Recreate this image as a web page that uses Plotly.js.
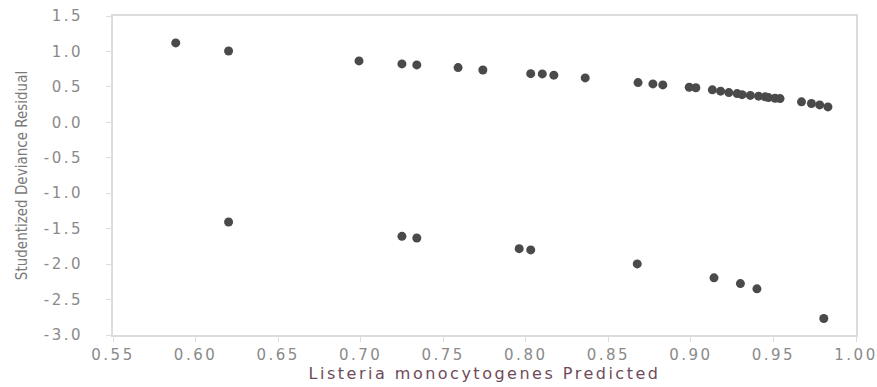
<!DOCTYPE html>
<html>
<head>
<meta charset="utf-8">
<script src="https://cdn.plot.ly/plotly-3.0.1.min.js"></script>
<style>
html,body{margin:0;padding:0;background:#fff;}
#chart{width:877px;height:387px;}
#chart .xtick text, #chart .ytick text{letter-spacing:2.5px;}
#chart .g-xtitle text{letter-spacing:2.5px;}
</style>
</head>
<body>
<div id="chart"></div>
<script>
// Predicted probability (x) and studentized deviance residual (y)
const predicted = [
  0.588, 0.620, 0.699, 0.725, 0.734, 0.759, 0.774, 0.803, 0.810, 0.817, 0.836,
  0.868, 0.877, 0.883, 0.899, 0.903, 0.913, 0.918, 0.923, 0.928, 0.931, 0.936,
  0.941, 0.945, 0.947, 0.951, 0.954, 0.967, 0.973, 0.978, 0.983,
  0.620, 0.725, 0.734, 0.796, 0.803, 0.8675, 0.914, 0.930, 0.940, 0.9805
];
const residual = [
  1.12, 1.007, 0.866, 0.824, 0.81, 0.772, 0.739, 0.687, 0.683, 0.665, 0.627,
  0.561, 0.542, 0.528, 0.495, 0.488, 0.458, 0.44, 0.42, 0.405, 0.39, 0.38,
  0.369, 0.36, 0.349, 0.34, 0.335, 0.289, 0.265, 0.246, 0.218,
  -1.406, -1.608, -1.631, -1.782, -1.80, -1.997, -2.194, -2.275, -2.349, -2.768
];
const xTicks = [0.55, 0.60, 0.65, 0.70, 0.75, 0.80, 0.85, 0.90, 0.95, 1.00];
const xTickText = ["0.55","0.60","0.65","0.70","0.75","0.80","0.85","0.90","0.95","1.00"];
const yTicks = [1.5, 1.0, 0.5, 0.0, -0.5, -1.0, -1.5, -2.0, -2.5, -3.0];
const yTickText = ["1.5","1.0","0.5","0.0","-0.5","-1.0","-1.5","-2.0","-2.5","-3.0"];

const trace = {
  x: predicted,
  y: residual,
  type: 'scatter',
  mode: 'markers',
  marker: {size: 9, color: '#4a4a4a'},
  hoverinfo: 'x+y'
};

const tickFont = {family: 'DejaVu Sans, sans-serif', size: 15, color: '#8a8a8a'};

const layout = {
  width: 877, height: 387,
  margin: {l: 113, r: 21, t: 16, b: 52, pad: 0},
  paper_bgcolor: '#ffffff',
  plot_bgcolor: '#ffffff',
  showlegend: false,
  xaxis: {
    range: [0.55, 1.00],
    tickvals: xTicks, ticktext: xTickText,
    showgrid: false, zeroline: false,
    showline: true, linecolor: '#dcdcdc', linewidth: 2, mirror: true,
    ticks: 'outside', ticklen: 5, tickcolor: '#dcdcdc', tickwidth: 1,
    tickfont: tickFont,
    title: {text: 'Listeria monocytogenes Predicted', standoff: 0,
            font: {family: 'DejaVu Sans, sans-serif', size: 16, color: '#6e4b5a'}}
  },
  yaxis: {
    range: [-3.0, 1.5],
    tickvals: yTicks, ticktext: yTickText,
    showgrid: false, zeroline: false,
    showline: true, linecolor: '#dcdcdc', linewidth: 2, mirror: true,
    ticks: 'outside', ticklen: 5, tickcolor: '#dcdcdc', tickwidth: 1,
    ticklabelstandoff: 20,
    tickfont: tickFont,
    title: {text: 'Studentized Deviance Residual', standoff: 22,
            font: {family: 'Liberation Sans Narrow, DejaVu Sans Condensed, sans-serif', size: 15, color: '#7a7a7a'}}
  }
};

Plotly.newPlot('chart', [trace], layout, {displayModeBar: false, staticPlot: true});
</script>
</body>
</html>
